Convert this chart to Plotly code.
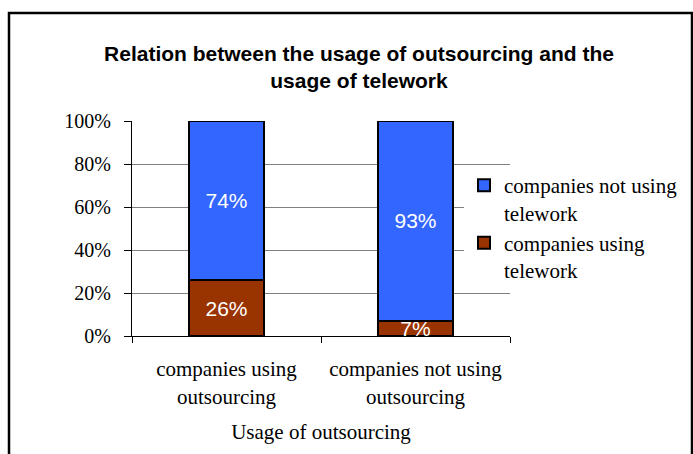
import plotly.graph_objects as go

categories = ["companies using<br>outsourcing", "companies not using<br>outsourcing"]
using_telework = [26, 7]
not_using_telework = [74, 93]
y_ticks = [0, 20, 40, 60, 80, 100]
y_tick_labels = ["0%", "20%", "40%", "60%", "80%", "100%"]

SERIF = "Liberation Serif, Times New Roman, serif"
SANS = "Liberation Sans, Arial, sans-serif"

fig = go.Figure()
fig.add_trace(go.Bar(
    name="companies using<br>telework",
    x=categories, y=using_telework,
    marker=dict(color="#993300", line=dict(color="black", width=2)),
    text=[f"{v}%" for v in using_telework],
    textposition="inside", insidetextanchor="middle",
    textfont=dict(family=SANS, size=21, color="white"),
))
fig.add_trace(go.Bar(
    name="companies not using<br>telework",
    x=categories, y=not_using_telework,
    marker=dict(color="#3366FF", line=dict(color="black", width=2)),
    text=[f"{v}%" for v in not_using_telework],
    textposition="inside", insidetextanchor="middle",
    textfont=dict(family=SANS, size=21, color="white"),
))

L, R, T, B = 132, 183, 121, 118
W, H = 693, 454
pw, ph = W - L - R, H - T - B

def px_x(x):
    return (x - L) / pw

def px_y(y):
    return (H - B - y) / ph

fig.update_layout(
    width=W, height=H,
    margin=dict(l=L, r=R, t=T, b=B, autoexpand=False),
    paper_bgcolor="white", plot_bgcolor="white",
    barmode="stack", bargap=0.6,
    uniformtext=dict(minsize=21, mode="show"),
    title=dict(
        text="<b>Relation between the usage of outsourcing and the<br>usage of telework</b>",
        x=359 / W, xanchor="center", xref="container",
        y=1 - 60.5 / H, yanchor="middle", yref="container",
        font=dict(family=SANS, size=21, color="black"),
    ),
    font=dict(family=SERIF, size=21, color="black"),
    legend=dict(
        x=px_x(464), y=px_y(165), xanchor="left", yanchor="top",
        traceorder="reversed", valign="top",
        bgcolor="white", font=dict(family=SERIF, size=21, color="black"),
        itemwidth=30, tracegroupgap=2,
    ),
    xaxis=dict(
        showline=True, linecolor="black", linewidth=1,
        ticks="outside", tickcolor="black", ticklen=6,
        tickson="boundaries", showgrid=False,
        tickfont=dict(family=SERIF, size=21),
        ticklabelstandoff=14,
        title=dict(text="Usage of outsourcing", font=dict(family=SERIF, size=21), standoff=16),
    ),
    yaxis=dict(
        range=[0, 100], tickvals=y_ticks, ticktext=y_tick_labels,
        showline=True, linecolor="black", linewidth=1,
        ticks="outside", tickcolor="black", ticklen=7,
        showgrid=True, gridcolor="#808080", gridwidth=1,
        tickfont=dict(family=SERIF, size=20),
        ticklabelstandoff=9,
        zeroline=False,
    ),
    shapes=[dict(
        type="rect", xref="paper", yref="paper",
        x0=px_x(9), x1=px_x(692), y0=px_y(470), y1=px_y(13),
        line=dict(color="black", width=2.5), fillcolor="rgba(0,0,0,0)",
        layer="above",
    )],
)

fig.write_html("out.html")
